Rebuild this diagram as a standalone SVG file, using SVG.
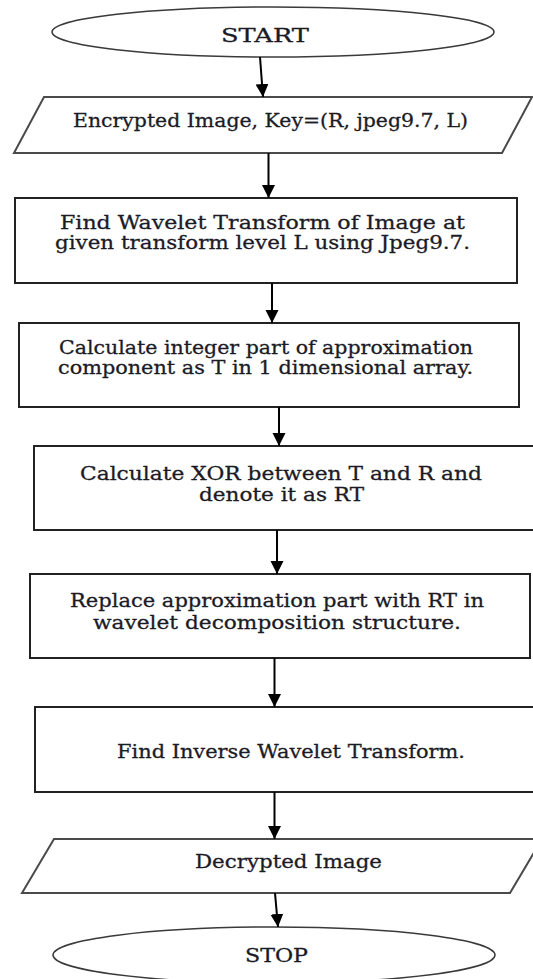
<svg xmlns="http://www.w3.org/2000/svg" width="533" height="979" viewBox="0 0 533 979">
  <defs>
    <marker id="head" markerUnits="userSpaceOnUse" markerWidth="14" markerHeight="14" viewBox="0 0 14 14" refX="13" refY="7" orient="auto">
      <path d="M0,0.5 L13,7 L0,13.5 Z" fill="#000"/>
    </marker>
    <style>
      .box { fill: #fff; stroke: #222; stroke-width: 2; }
      .io { fill: #fff; stroke: #4a4a4a; stroke-width: 2; }
      .term { fill: #fff; stroke: #3a3a3a; stroke-width: 1.5; }
      .lbl { font-family: "DejaVu Serif", "Liberation Serif", serif; font-size: 19px; fill: #1b1b26; stroke: #1b1b26; stroke-width: 0.3; }
      .conn { stroke: #000; stroke-width: 2; fill: none; marker-end: url(#head); }
    </style>
  </defs>
  <rect width="533" height="979" fill="#fff"/>

  <g id="start">
    <ellipse class="term" cx="273" cy="32" rx="221" ry="25"/>
    <text class="lbl" x="221" y="42" textLength="88" lengthAdjust="spacingAndGlyphs">START</text>
  </g>

  <g id="input">
    <polygon class="io" points="44,97 532,97 502,153 14,153"/>
    <text class="lbl" x="73" y="127" textLength="395" lengthAdjust="spacingAndGlyphs">Encrypted Image, Key=(R, jpeg9.7, L)</text>
  </g>

  <g id="wavelet">
    <rect class="box" x="15" y="198" width="502" height="85"/>
    <text class="lbl" x="60" y="229" textLength="405" lengthAdjust="spacingAndGlyphs">Find Wavelet Transform of Image at</text>
    <text class="lbl" x="55" y="249" textLength="415" lengthAdjust="spacingAndGlyphs">given transform level L using Jpeg9.7.</text>
  </g>

  <g id="integer">
    <rect class="box" x="19" y="323" width="500" height="84"/>
    <text class="lbl" x="59" y="354" textLength="414" lengthAdjust="spacingAndGlyphs">Calculate integer part of approximation</text>
    <text class="lbl" x="58" y="374" textLength="415" lengthAdjust="spacingAndGlyphs">component as T in 1 dimensional array.</text>
  </g>

  <g id="xor">
    <rect class="box" x="34" y="446" width="510" height="84"/>
    <text class="lbl" x="80" y="480" textLength="402" lengthAdjust="spacingAndGlyphs">Calculate XOR between T and R and</text>
    <text class="lbl" x="199" y="501" textLength="165" lengthAdjust="spacingAndGlyphs">denote it as RT</text>
  </g>

  <g id="replace">
    <rect class="box" x="30" y="574" width="500" height="84"/>
    <text class="lbl" x="70" y="607" textLength="414" lengthAdjust="spacingAndGlyphs">Replace approximation part with RT in</text>
    <text class="lbl" x="93" y="629" textLength="368" lengthAdjust="spacingAndGlyphs">wavelet decomposition structure.</text>
  </g>

  <g id="inverse">
    <rect class="box" x="35" y="707" width="510" height="85"/>
    <text class="lbl" x="117" y="758" textLength="348" lengthAdjust="spacingAndGlyphs">Find Inverse Wavelet Transform.</text>
  </g>

  <g id="output">
    <polygon class="io" points="54,839 542,839 510,893 22,893"/>
    <text class="lbl" x="195" y="868" textLength="187" lengthAdjust="spacingAndGlyphs">Decrypted Image</text>
  </g>

  <g id="stop">
    <ellipse class="term" cx="274" cy="955" rx="221" ry="28"/>
    <text class="lbl" x="245" y="962" textLength="63" lengthAdjust="spacingAndGlyphs">STOP</text>
  </g>

  <g id="connectors">
    <line class="conn" x1="260" y1="57" x2="263" y2="97"/>
    <line class="conn" x1="268.5" y1="153" x2="268.5" y2="198"/>
    <line class="conn" x1="272" y1="283" x2="272" y2="323"/>
    <line class="conn" x1="279" y1="407" x2="279" y2="446"/>
    <line class="conn" x1="277" y1="530" x2="277" y2="574"/>
    <line class="conn" x1="274.5" y1="658" x2="274.5" y2="707"/>
    <line class="conn" x1="274.5" y1="792" x2="274.5" y2="839"/>
    <line class="conn" x1="275" y1="893" x2="278" y2="927"/>
  </g>
</svg>
